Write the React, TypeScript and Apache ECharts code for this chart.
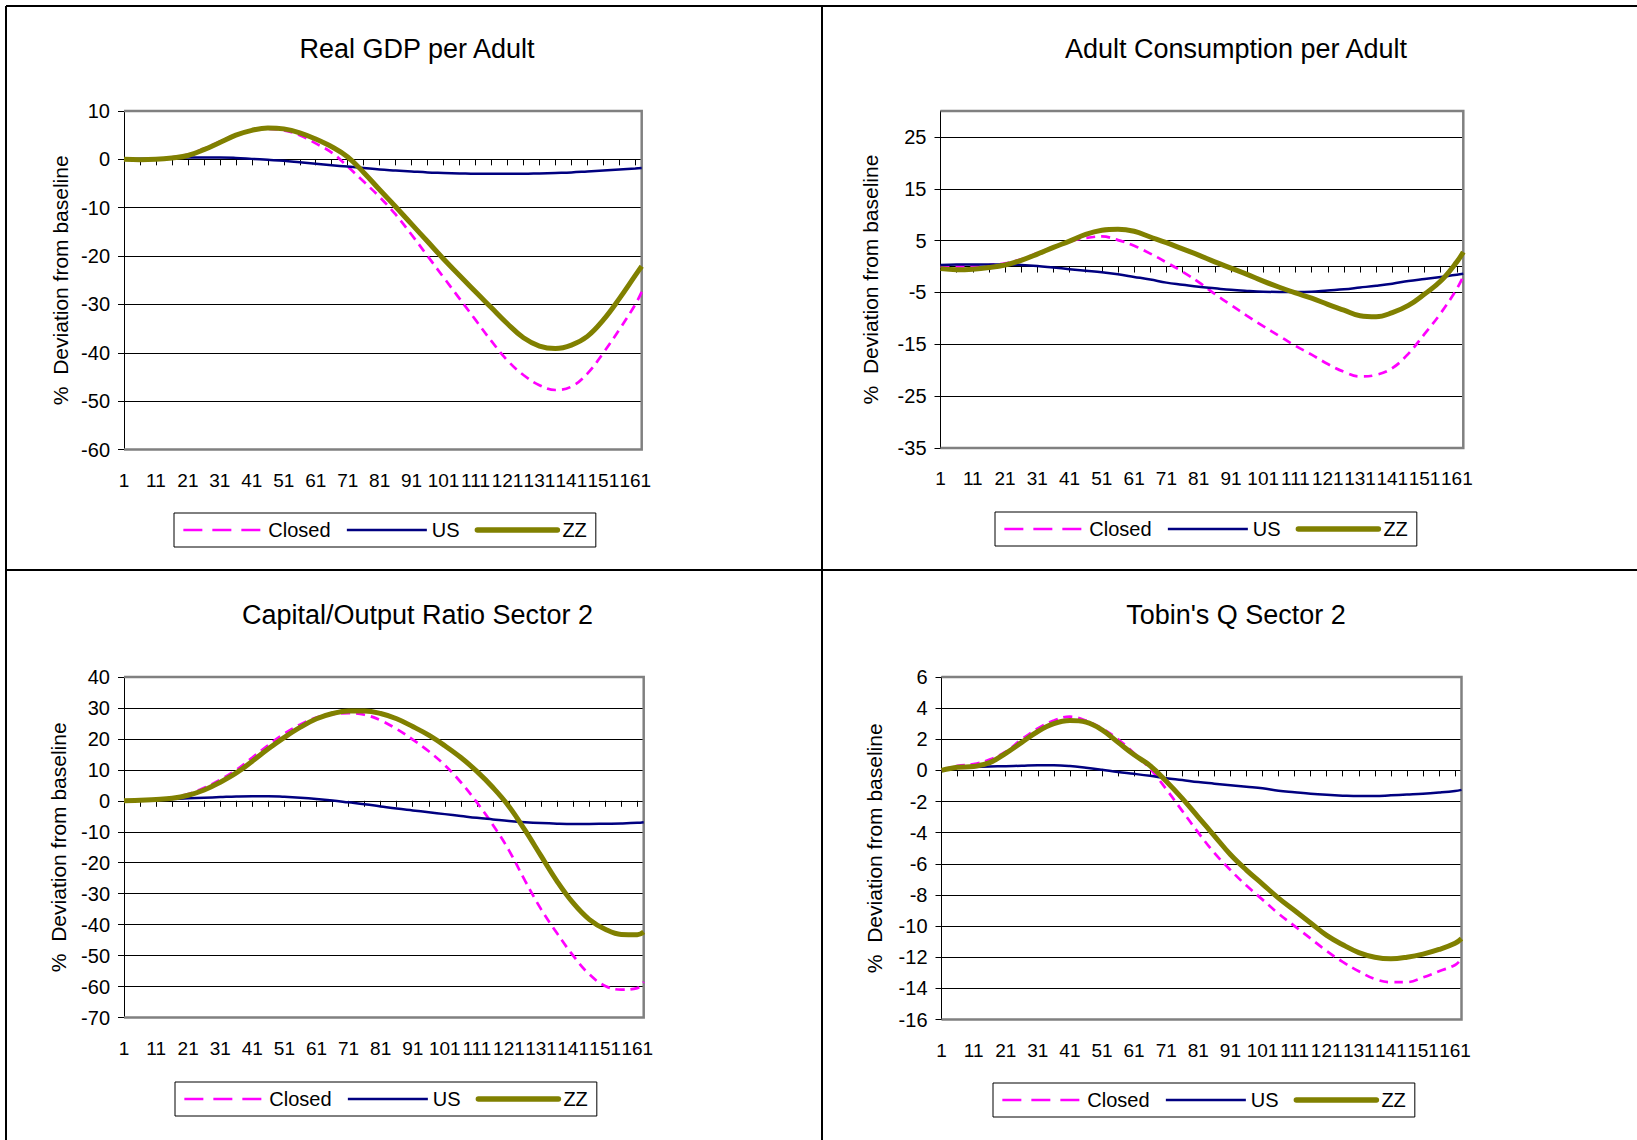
import { useEffect, useRef } from 'react'
import * as echarts from 'echarts'

// periods (every 5th period plus the last one)
const periods = [1, 6, 11, 16, 21, 26, 31, 36, 41, 46, 51, 56, 61, 66, 71, 76, 81, 86, 91, 96, 101, 106, 111, 116, 121, 126, 131, 136, 141, 146, 151, 156, 161, 163]
const xLabelValues = [1, 11, 21, 31, 41, 51, 61, 71, 81, 91, 101, 111, 121, 131, 141, 151, 161]
const xTickValues = [1, 6, 11, 16, 21, 26, 31, 36, 41, 46, 51, 56, 61, 66, 71, 76, 81, 86, 91, 96, 101, 106, 111, 116, 121, 126, 131, 136, 141, 146, 151, 156, 161]

// Real GDP per Adult
const gdpClosed = [0, 0, 0.1, 0.4, 1.0, 2.2, 3.7, 5.1, 6.0, 6.3, 6.0, 5.0, 3.3, 1.4, -1.5, -4.6, -7.8, -11.4, -15.6, -20.0, -24.4, -28.8, -33.2, -37.6, -41.6, -44.6, -46.7, -47.7, -47.0, -44.3, -40.0, -35.2, -30.0, -27.4]
const gdpUS = [0, 0.1, 0.2, 0.3, 0.4, 0.4, 0.4, 0.3, 0.1, -0.1, -0.3, -0.6, -0.9, -1.2, -1.5, -1.8, -2.1, -2.3, -2.5, -2.7, -2.8, -2.9, -3.0, -3.0, -3.0, -3.0, -2.9, -2.8, -2.7, -2.5, -2.3, -2.1, -1.9, -1.8]
const gdpZZ = [0, -0.1, 0, 0.3, 0.8, 2.0, 3.5, 5.0, 6.0, 6.5, 6.3, 5.5, 4.2, 2.6, 0.5, -2.7, -6.3, -9.8, -13.4, -17.0, -20.6, -24.0, -27.4, -30.7, -34.0, -36.9, -38.6, -39.1, -38.4, -36.6, -33.2, -28.8, -24.0, -22.1]
const gdpYTicks = [-60, -50, -40, -30, -20, -10, 0, 10]

// Adult Consumption per Adult
const consClosed = [0, 0, 0.1, 0.3, 0.6, 1.4, 2.6, 3.8, 4.8, 5.5, 5.8, 5.1, 4.0, 2.5, 0.8, -1.0, -3.0, -5.3, -7.4, -9.5, -11.5, -13.4, -15.3, -17.0, -18.8, -20.3, -21.2, -20.9, -19.6, -16.8, -13.0, -9.0, -4.3, -1.9]
const consUS = [0.3, 0.4, 0.4, 0.4, 0.4, 0.3, 0.1, -0.2, -0.5, -0.8, -1.1, -1.5, -2.0, -2.5, -3.1, -3.5, -3.9, -4.2, -4.5, -4.7, -4.85, -4.9, -4.9, -4.85, -4.6, -4.4, -4.05, -3.7, -3.3, -2.8, -2.4, -2.0, -1.6, -1.4]
const consZZ = [-0.4, -0.6, -0.5, -0.2, 0.3, 1.2, 2.4, 3.7, 4.9, 6.2, 7.0, 7.2, 6.8, 5.7, 4.6, 3.4, 2.2, 0.9, -0.3, -1.5, -2.8, -4.0, -5.1, -6.1, -7.3, -8.4, -9.5, -9.7, -8.9, -7.5, -5.3, -2.8, 0.9, 2.8]
const consYTicks = [-35, -25, -15, -5, 5, 15, 25]

// Capital/Output Ratio Sector 2
const kyClosed = [0, 0.2, 0.5, 1.0, 2.2, 4.2, 6.8, 10.0, 14.0, 18.0, 21.7, 24.7, 26.9, 28.0, 28.3, 27.8, 26.0, 23.2, 19.8, 16.0, 11.5, 6.0, -0.5, -7.8, -16.0, -25.8, -35.0, -42.8, -50.0, -56.0, -59.8, -61.0, -60.5, -58.5]
const kyUS = [0, 0.2, 0.4, 0.6, 0.8, 1.0, 1.2, 1.4, 1.5, 1.5, 1.3, 1.0, 0.6, 0.1, -0.5, -1.1, -1.8, -2.5, -3.1, -3.7, -4.3, -4.9, -5.5, -6.0, -6.5, -6.9, -7.2, -7.4, -7.5, -7.5, -7.4, -7.3, -7.1, -6.9]
const kyZZ = [0, 0.2, 0.4, 0.8, 1.8, 3.5, 6.0, 9.0, 12.8, 16.8, 20.5, 23.8, 26.5, 28.2, 29.0, 29.0, 28.2, 26.5, 24.0, 21.2, 17.8, 14.0, 9.5, 4.3, -1.8, -9.5, -17.8, -26.0, -33.0, -38.3, -41.5, -43.2, -43.3, -42.4]
const kyYTicks = [-70, -60, -50, -40, -30, -20, -10, 0, 10, 20, 30, 40]

// Tobin's Q Sector 2
const qClosed = [0, 0.3, 0.4, 0.7, 1.2, 2.0, 2.7, 3.2, 3.45, 3.2, 2.7, 2.0, 1.1, 0.1, -1.2, -2.6, -4.0, -5.3, -6.4, -7.4, -8.3, -9.2, -10.0, -10.8, -11.6, -12.3, -12.9, -13.4, -13.6, -13.6, -13.3, -12.9, -12.5, -12.1]
const qUS = [0, 0.2, 0.22, 0.25, 0.27, 0.3, 0.33, 0.33, 0.28, 0.17, 0.04, -0.1, -0.22, -0.35, -0.5, -0.62, -0.75, -0.85, -0.95, -1.05, -1.15, -1.3, -1.4, -1.5, -1.57, -1.62, -1.65, -1.65, -1.6, -1.55, -1.5, -1.42, -1.32, -1.25]
const qZZ = [0, 0.2, 0.25, 0.5, 1.1, 1.8, 2.5, 3.0, 3.2, 3.1, 2.6, 1.8, 1.0, 0.3, -0.7, -1.8, -3.0, -4.2, -5.4, -6.4, -7.3, -8.2, -9.0, -9.8, -10.6, -11.2, -11.7, -12.0, -12.1, -12.0, -11.8, -11.5, -11.1, -10.8]
const qYTicks = [-16, -14, -12, -10, -8, -6, -4, -2, 0, 2, 4, 6]

const panels = [
  { title: 'Real GDP per Adult', closed: gdpClosed, us: gdpUS, zz: gdpZZ, ticks: gdpYTicks, min: -60, max: 10 },
  { title: 'Adult Consumption per Adult', closed: consClosed, us: consUS, zz: consZZ, ticks: consYTicks, min: -35, max: 30 },
  { title: 'Capital/Output Ratio Sector 2', closed: kyClosed, us: kyUS, zz: kyZZ, ticks: kyYTicks, min: -70, max: 40 },
  { title: "Tobin's Q Sector 2", closed: qClosed, us: qUS, zz: qZZ, ticks: qYTicks, min: -16, max: 6 },
]

// pixel layout of each panel
const layout = [
  { left: 124, top: 111, width: 517.7, height: 338.5, titleX: 417, titleY: 48.5, nameGap: 53, legendLeft: 174, legendTop: 513 },
  { left: 940.5, top: 111, width: 522.8, height: 337, titleX: 1236, titleY: 48.5, nameGap: 60, legendLeft: 995, legendTop: 512 },
  { left: 124, top: 677, width: 519.7, height: 340.5, titleX: 417.5, titleY: 614.5, nameGap: 55, legendLeft: 175, legendTop: 1082 },
  { left: 941.5, top: 677, width: 520, height: 342.5, titleX: 1236, titleY: 614.5, nameGap: 57, legendLeft: 993, legendTop: 1083 },
]

const FONT = '"Liberation Sans", Arial, Helvetica, sans-serif'

const CLOSED_COLOR = '#FF00FF'
const US_COLOR = '#000080'
const ZZ_COLOR = '#808000'

function buildOption(): echarts.EChartsOption {
  const grid: any[] = []
  const xAxis: any[] = []
  const yAxis: any[] = []
  const series: any[] = []
  const title: any[] = []
  const legend: any[] = []
  const elements: any[] = [
    // panel frame
    { type: 'line', shape: { x1: 6, y1: 6, x2: 1637, y2: 6 }, style: { stroke: '#000', lineWidth: 2 } },
    { type: 'line', shape: { x1: 6, y1: 6, x2: 6, y2: 1140 }, style: { stroke: '#000', lineWidth: 2 } },
    { type: 'line', shape: { x1: 822, y1: 6, x2: 822, y2: 1140 }, style: { stroke: '#000', lineWidth: 2 } },
    { type: 'line', shape: { x1: 6, y1: 570, x2: 1637, y2: 570 }, style: { stroke: '#000', lineWidth: 2 } },
  ]

  panels.forEach((p, i) => {
    const L = layout[i]
    grid.push({ left: L.left, top: L.top, width: L.width, height: L.height })

    // bottom axis carrying the labels
    xAxis.push({
      type: 'value', gridIndex: i, position: 'bottom', min: 1, max: 163,
      axisLine: { show: false, onZero: false },
      axisTick: { show: false },
      splitLine: { show: false },
      axisLabel: {
        customValues: xLabelValues, showMinLabel: true, showMaxLabel: true,
        margin: 21, fontSize: 19, color: '#000', fontFamily: FONT,
      },
    })
    // axis line through zero with the ticks
    xAxis.push({
      type: 'value', gridIndex: i, position: 'bottom', min: 1, max: 163,
      axisLine: { show: true, onZero: true, lineStyle: { color: '#000', width: 1 } },
      axisTick: { show: true, customValues: xTickValues, length: 6, lineStyle: { color: '#000', width: 1 } },
      axisLabel: { show: false },
      splitLine: { show: false },
    })

    yAxis.push({
      type: 'value', gridIndex: i, position: 'left', min: p.min, max: p.max,
      axisLine: { show: true, onZero: false, lineStyle: { color: '#000', width: 1 } },
      axisTick: { show: true, customValues: p.ticks, length: 6, lineStyle: { color: '#000', width: 1 } },
      axisLabel: {
        customValues: p.ticks, showMinLabel: true, showMaxLabel: true,
        margin: 14, fontSize: 20, color: '#000', fontFamily: FONT,
      },
      splitLine: { show: true, lineStyle: { color: '#000', width: 1 } },
      name: '%  Deviation from baseline',
      nameLocation: 'middle',
      nameRotate: 90,
      nameGap: L.nameGap,
      nameTextStyle: { fontSize: 21, color: '#000', fontFamily: FONT },
    })

    const pts = (vals: number[]) => periods.map((x, k) => [x, vals[k]])
    series.push(
      {
        name: 'Closed', type: 'line', xAxisIndex: i * 2, yAxisIndex: i, data: pts(p.closed),
        smooth: 0.4, symbol: 'none', z: 3,
        lineStyle: { color: CLOSED_COLOR, width: 2.7, type: [9, 6] }, itemStyle: { color: CLOSED_COLOR },
      },
      {
        name: 'US', type: 'line', xAxisIndex: i * 2, yAxisIndex: i, data: pts(p.us),
        smooth: 0.4, symbol: 'none', z: 4,
        lineStyle: { color: US_COLOR, width: 2.5 }, itemStyle: { color: US_COLOR },
      },
      {
        name: 'ZZ', type: 'line', xAxisIndex: i * 2, yAxisIndex: i, data: pts(p.zz),
        smooth: 0.4, symbol: 'none', z: 5,
        lineStyle: { color: ZZ_COLOR, width: 5 }, itemStyle: { color: ZZ_COLOR },
      },
    )

    title.push({
      text: p.title, left: L.titleX - 5, top: L.titleY - 5,
      textAlign: 'center', textVerticalAlign: 'middle',
      textStyle: { fontSize: 27, fontWeight: 'normal', color: '#000', fontFamily: FONT },
    })

    legend.push({
      left: L.legendLeft, top: L.legendTop, orient: 'horizontal',
      data: [
        { name: 'Closed', lineStyle: { color: CLOSED_COLOR, width: 2.7, type: [19, 10] } },
        { name: 'US', lineStyle: { color: US_COLOR, width: 2.5, type: 'solid' } },
        { name: 'ZZ', lineStyle: { color: ZZ_COLOR, width: 5.5, type: 'solid', cap: 'round' } },
      ],
      itemWidth: 80, itemHeight: 14, itemGap: 15,
      padding: [7, 9, 7, 8],
      borderColor: '#000', borderWidth: 1, backgroundColor: '#fff',
      selectedMode: false,
      itemStyle: { opacity: 0 },
      textStyle: { fontSize: 20, color: '#000', fontFamily: FONT },
    })

    // gray plot-area border (top, right, bottom)
    const l = L.left, t = L.top, r = L.left + L.width, b = L.top + L.height
    elements.push({
      type: 'polyline', z: 1, silent: true,
      shape: { points: [[l, b], [r, b], [r, t], [l, t]] },
      style: { stroke: '#808080', lineWidth: 2.5, fill: null },
    })
  })

  return {
    animation: false,
    backgroundColor: '#fff',
    title, legend, grid, xAxis, yAxis, series,
    graphic: { elements },
  }
}

export default function App() {
  const chartRef = useRef<HTMLDivElement>(null)

  useEffect(() => {
    if (!chartRef.current) return
    const chart = echarts.init(chartRef.current, undefined, { renderer: 'svg' })
    chart.setOption(buildOption())
    return () => chart.dispose()
  }, [])

  return (
    <div
      ref={chartRef}
      style={{ position: 'absolute', left: 0, top: 0, width: 1637, height: 1140, background: '#fff' }}
    />
  )
}
